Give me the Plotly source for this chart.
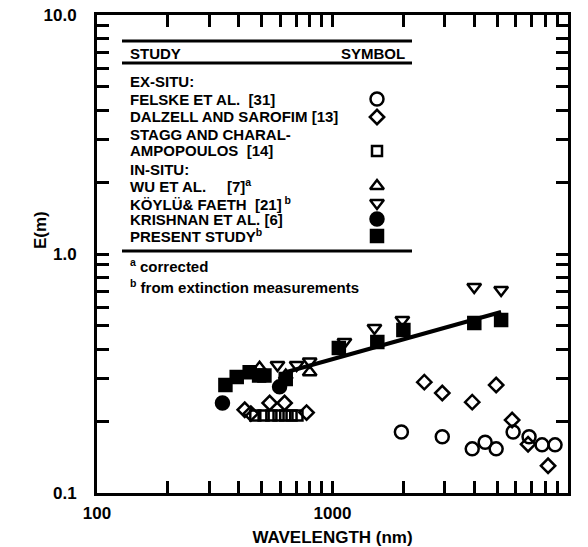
import plotly.graph_objects as go

# ---- data: refractive-index function E(m) of soot vs wavelength ----
felske_wl = [1961, 2925, 3920, 4448, 4954, 5848, 6834, 7760, 8811]
felske_E = [0.180, 0.172, 0.153, 0.163, 0.153, 0.180, 0.172, 0.159, 0.159]

dalzell_wl = [424, 450, 541, 626, 776, 2454, 2925, 3920, 4954, 5790, 6768, 8229]
dalzell_E = [0.223, 0.215, 0.238, 0.238, 0.217, 0.291, 0.262, 0.240, 0.283, 0.202, 0.160, 0.130]

stagg_wl = [470, 510, 550, 590, 630, 670, 710]
stagg_E = [0.211, 0.211, 0.211, 0.211, 0.211, 0.211, 0.211]

wu_wl = [490, 633, 800]
wu_E = [0.334, 0.31, 0.32]

koylu_wl = [584, 704, 800, 1124, 1507, 1980, 3997, 5200]
koylu_E = [0.343, 0.343, 0.355, 0.428, 0.49, 0.53, 0.728, 0.707]

krishnan_wl = [341, 596]
krishnan_E = [0.238, 0.278]

present_wl = [351, 392, 445, 488, 514, 633, 1064, 1550, 2000, 4000, 5200]
present_E = [0.283, 0.306, 0.32, 0.31, 0.31, 0.30, 0.404, 0.428, 0.481, 0.515, 0.53]

fit_wl = [633, 5200]
fit_E = [0.32, 0.572]

# axis labels on decades, minor ticks on every digit in between
x_decades = [100, 1000, 10000]
x_labels = ["100", "1000", "10000"]
y_decades = [0.1, 1, 10]
y_labels = ["0.1", "1.0", "10.0"]

# legend table rows: (text, symbol or None)
legend_rows = [
    ("EX-SITU:", None),
    ("FELSKE ET AL.&nbsp;&nbsp;[31]", "felske"),
    ("DALZELL AND SAROFIM [13]", "dalzell"),
    ("STAGG AND CHARAL-", None),
    ("AMPOPOULOS&nbsp;&nbsp;[14]", "stagg"),
    ("IN-SITU:", None),
    ("WU ET AL.&nbsp;&nbsp;&nbsp;&nbsp;&nbsp;[7]<sup>a</sup>", "wu"),
    ("KÖYLÜ& FAETH&nbsp;&nbsp;[21]<sup> b</sup>", "koylu"),
    ("KRISHNAN ET AL. [6]", "krishnan"),
    ("PRESENT STUDY<sup>b</sup>", "present"),
]
footnotes = ["<sup>a</sup> corrected", "<sup>b</sup> from extinction measurements"]

FONT = "Liberation Sans, Arial, Helvetica, sans-serif"
INK = "black"

styles = {
    "felske": dict(symbol="circle-open", size=13),
    "dalzell": dict(symbol="diamond-open", size=11),
    "stagg": dict(symbol="square-open", size=10),
    "wu": dict(symbol="triangle-up-open", size=12),
    "koylu": dict(symbol="triangle-down-open", size=12),
    "krishnan": dict(symbol="circle", size=13),
    "present": dict(symbol="square", size=12),
}
series = {
    "felske": (felske_wl, felske_E),
    "dalzell": (dalzell_wl, dalzell_E),
    "stagg": (stagg_wl, stagg_E),
    "wu": (wu_wl, wu_E),
    "koylu": (koylu_wl, koylu_E),
    "krishnan": (krishnan_wl, krishnan_E),
    "present": (present_wl, present_E),
}


def minor_vals(decades):
    return [d * k for d in decades[:-1] for k in range(2, 10)]


fig = go.Figure()

fig.add_trace(go.Scatter(x=fit_wl, y=fit_E, mode="lines",
                         line=dict(color=INK, width=4), showlegend=False))

for key, (xs, ys) in series.items():
    st = styles[key]
    fig.add_trace(go.Scatter(
        x=xs, y=ys, mode="markers", showlegend=False,
        marker=dict(symbol=st["symbol"], size=st["size"], color=INK,
                    line=dict(color=INK, width=2.5))))

# plot-area geometry in pixels (used only to place the table)
W, H = 588, 547
L, R, T, B = 97, 20, 15, 54
PW, PH = W - L - R, H - T - B


def px_x(px):
    return (px - L) / PW


def px_y(py):
    return (H - B - py) / PH


annotations = []
shapes = []
tx = px_x(128)
font_tab = dict(family=FONT, size=15, color=INK, weight="bold")

for y in (41, 63, 251):
    shapes.append(dict(type="line", xref="paper", yref="paper",
                       x0=px_x(122), x1=px_x(412), y0=px_y(y), y1=px_y(y),
                       line=dict(color=INK, width=3)))

annotations.append(dict(text="STUDY", x=tx, y=px_y(53), xref="paper", yref="paper",
                        xanchor="left", yanchor="middle", showarrow=False, font=font_tab))
annotations.append(dict(text="SYMBOL", x=px_x(407), y=px_y(53), xref="paper", yref="paper",
                        xanchor="right", yanchor="middle", showarrow=False, font=font_tab))

row_y = [82, 99, 117, 134, 151, 169, 186, 203, 219, 236]
sym_x, sym_y, sym_key = [], [], []
for (text, key), y in zip(legend_rows, row_y):
    annotations.append(dict(text=text, x=tx, y=px_y(y), xref="paper", yref="paper",
                            xanchor="left", yanchor="middle", showarrow=False, font=font_tab))
    if key:
        sym_x.append(px_x(377))
        sym_y.append(px_y(y))
        sym_key.append(key)

for text, y in zip(footnotes, (265, 286)):
    annotations.append(dict(text=text, x=tx, y=px_y(y), xref="paper", yref="paper",
                            xanchor="left", yanchor="middle", showarrow=False, font=font_tab))

# table symbols on a hidden unit axis overlaying the plot
for xx, yy, key in zip(sym_x, sym_y, sym_key):
    st = styles[key]
    fig.add_trace(go.Scatter(
        x=[xx], y=[yy], xaxis="x2", yaxis="y2", mode="markers", showlegend=False,
        marker=dict(symbol=st["symbol"], size=st["size"], color=INK,
                    line=dict(color=INK, width=2.5))))

annotations.append(dict(text="E(m)", x=px_x(40), y=px_y(230), xref="paper", yref="paper",
                        xanchor="center", yanchor="middle",
                        textangle=-90, showarrow=False,
                        font=dict(family=FONT, size=17, color=INK, weight="bold")))

axis_common = dict(
    type="log", showgrid=False, zeroline=False, showline=True, linecolor=INK, linewidth=3,
    mirror="ticks", ticks="inside", ticklen=12, tickwidth=2.5, tickcolor=INK,
    tickmode="array", automargin=False,
    tickfont=dict(family=FONT, size=17, color=INK, weight="bold"),
)

fig.update_layout(
    width=W, height=H,
    margin=dict(l=L, r=R, t=T, b=B),
    paper_bgcolor="white", plot_bgcolor="white",
    xaxis=dict(axis_common, range=[2, 4], tickvals=x_decades, ticktext=x_labels,
               minor=dict(tickmode="array", tickvals=minor_vals(x_decades), ticks="inside",
                          ticklen=12, tickwidth=2.5, tickcolor=INK, showgrid=False),
               ticklabelstandoff=3,
               title=dict(text="WAVELENGTH (nm)", standoff=12,
                          font=dict(family=FONT, size=17, color=INK, weight="bold"))),
    yaxis=dict(axis_common, range=[-1, 1], tickvals=y_decades, ticktext=y_labels,
               minor=dict(tickmode="array", tickvals=minor_vals(y_decades), ticks="inside",
                          ticklen=12, tickwidth=2.5, tickcolor=INK, showgrid=False),
               ticklabelstandoff=14),
    xaxis2=dict(overlaying="x", range=[0, 1], visible=False, fixedrange=True),
    yaxis2=dict(overlaying="y", range=[0, 1], visible=False, fixedrange=True),
    annotations=annotations, shapes=shapes, showlegend=False,
)

fig.write_html("out.html")
